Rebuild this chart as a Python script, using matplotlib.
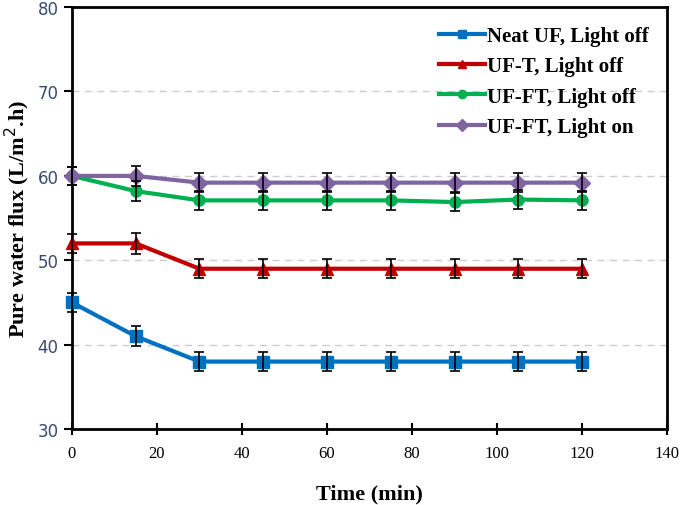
import matplotlib
matplotlib.use("Agg")
import matplotlib.pyplot as plt
from matplotlib.ticker import MultipleLocator

# Data
time_min = [0, 15, 30, 45, 60, 75, 90, 105, 120]
neat_uf_off = [45, 41, 38, 38, 38, 38, 38, 38, 38]
uf_t_off = [52, 52, 49, 49, 49, 49, 49, 49, 49]
uf_ft_off = [60, 58.2, 57.1, 57.1, 57.1, 57.1, 56.9, 57.2, 57.1]
uf_ft_on = [60, 60, 59.2, 59.2, 59.2, 59.2, 59.2, 59.2, 59.2]
err = [1.1, 1.2, 1.1, 1.1, 1.1, 1.1, 1.1, 1.1, 1.1]

series = [
    ("Neat UF, Light off", neat_uf_off, "#0070C0", "s"),
    ("UF-T, Light off", uf_t_off, "#C00000", "^"),
    ("UF-FT, Light off", uf_ft_off, "#00B050", "o"),
    ("UF-FT, Light on", uf_ft_on, "#8064A2", "D"),
]

fig = plt.figure(figsize=(6.85, 5.06), dpi=100)
ax = fig.add_axes([0.105, 0.150, 0.869, 0.834])

for label, vals, color, marker in series:
    ax.errorbar(time_min, vals, yerr=err, fmt="none", ecolor="black",
                elinewidth=1.2, capsize=3.5, capthick=1.2, zorder=4,
                clip_on=False)
    ax.plot(time_min, vals, color=color, lw=3, marker=marker,
            markersize=8, label=label, zorder=3, clip_on=False)

ax.set_xlim(0, 140)
ax.set_ylim(30, 80)
ax.xaxis.set_major_locator(MultipleLocator(20))
ax.yaxis.set_major_locator(MultipleLocator(10))
ax.tick_params(axis="x", direction="inout", length=9, width=1.5,
               labelsize=12, pad=7, labelfontfamily="Liberation Serif")
ax.tick_params(axis="y", direction="out", length=6, width=1.5,
               labelsize=12, labelcolor="#3A4A70",
               labelfontfamily="DejaVu Sans")

for s in ax.spines.values():
    s.set_linewidth(2)

ax.grid(axis="y", linestyle=(0, (5, 4)), color="#CCCCCC", lw=1)
ax.set_axisbelow(True)

ax.set_xlabel("Time (min)", fontfamily="Liberation Serif", fontweight="bold",
              fontsize=16, labelpad=16)
ax.set_ylabel("Pure water flux (L/m$^2$.h)", fontfamily="Liberation Serif",
              fontweight="bold", fontsize=16, labelpad=4)

leg = ax.legend(loc="upper right", frameon=False, handlelength=2.2,
                handletextpad=0.1, labelspacing=0.5, borderaxespad=0.5,
                markerscale=0.75,
                prop={"family": "Liberation Serif", "weight": "bold", "size": 15})

fig.savefig("out.png", dpi=100)
